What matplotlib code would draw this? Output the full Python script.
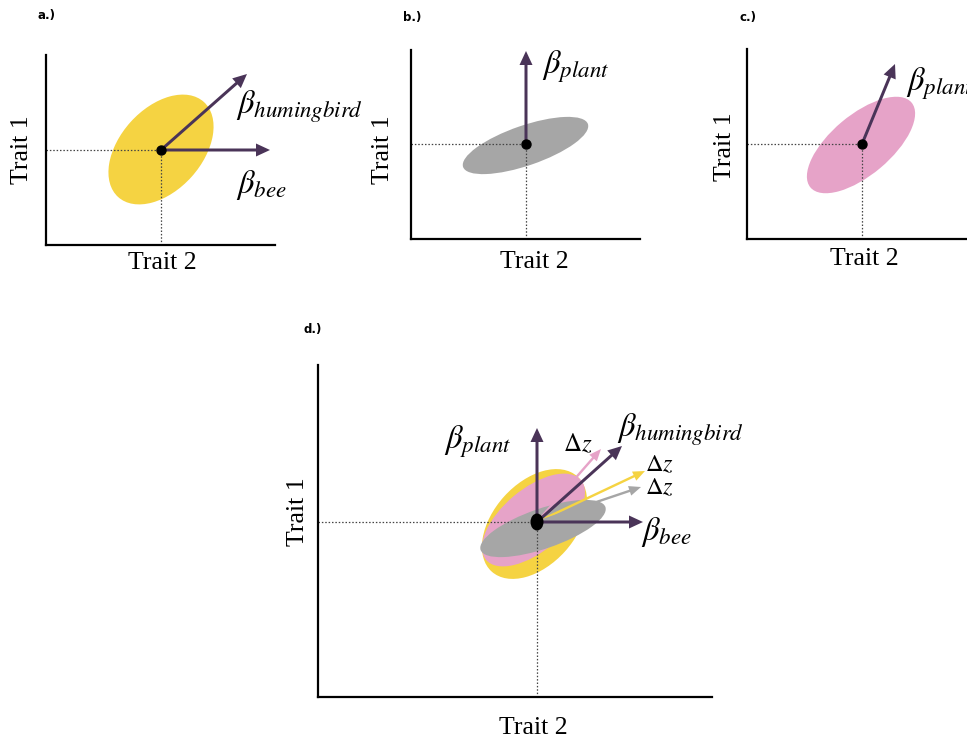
import matplotlib
matplotlib.use("Agg")
import matplotlib.pyplot as plt
from matplotlib.patches import Ellipse
import numpy as np

plt.rcParams['mathtext.fontset'] = 'stix'
SERIF = 'Liberation Serif'

W, H = 967, 742

# ---- colours ----
YELLOW = '#F5D342'
PINK = '#E6A3C8'
GREY = '#A6A6A6'
PURPLE = '#4A3458'

# ---- panel boxes (left, top, right, bottom) in figure pixels ----
panel_boxes = {
    'a': (46, 55, 275, 245),
    'b': (411, 50, 640, 239),
    'c': (747, 49, 990, 239),
    'd': (318, 365, 712, 697),
}
panel_letters = ['a.)', 'b.)', 'c.)', 'd.)']
panel_letter_pos = [(37, 15), (403, 17), (740, 17), (303, 330)]

# ---- trait means ----
mean_abc = (115, 95)
mean_d = (219, 175)

# ---- G-matrix ellipses: (cx, cy, semi-major, semi-minor, angle) ----
ell_a = [(115, 95.5, 64, 41, 48)]
ell_b = [(114.5, 93.5, 66, 20, 19)]
ell_c = [(114, 94, 66, 30, 40)]
ell_d = [(216.5, 173, 64, 41, 48), (215.5, 177, 62, 31, 40), (225, 168.5, 66, 20, 19)]
ell_colors_d = [YELLOW, PINK, GREY]

# ---- selection gradients (vectors) ----
beta_hummingbird = (86, 76)
beta_bee = (109, 0)
beta_plant_b = (0, 93)
beta_plant_c = (33, 80)
beta_plant_d = (0, 94)
beta_humm_d = (85, 76)
beta_bee_d = (106, 0)
dz_pink = (64, 73)
dz_yellow = (108, 51)
dz_grey = (104, 35)


def make_ax(key):
    L, T, R, B = panel_boxes[key]
    ax = fig.add_axes([L / W, 1 - B / H, (R - L) / W, (B - T) / H])
    ax.set_xlim(0, R - L)
    ax.set_ylim(0, B - T)
    for s in ['top', 'right']:
        ax.spines[s].set_visible(False)
    for s in ['left', 'bottom']:
        ax.spines[s].set_linewidth(1.6)
        ax.spines[s].set_color('black')
    ax.set_xticks([])
    ax.set_yticks([])
    ax.patch.set_alpha(0)
    return ax


def draw_ellipses(ax, ells, colors):
    for (cx, cy, a, b, ang), col in zip(ells, colors):
        ax.add_patch(Ellipse((cx, cy), 2 * a, 2 * b, angle=ang, facecolor=col,
                             edgecolor='none', zorder=1))


def guides(ax, m):
    ax.plot([0, m[0]], [m[1], m[1]], color='#444444', lw=0.9, ls=(0, (1.2, 1.5)), zorder=2)
    ax.plot([m[0], m[0]], [0, m[1]], color='#444444', lw=0.9, ls=(0, (1.2, 1.5)), zorder=2)


def arrow(ax, m, v, color=PURPLE, width=3.0, hw=13, hl=14, z=5):
    ax.arrow(m[0], m[1], v[0], v[1], width=width, head_width=hw, head_length=hl,
             length_includes_head=True, color=color, lw=0, zorder=z)


def trait_labels(ax, x2, x1):
    ax.text(x2[0], x2[1], 'Trait 2', family=SERIF, fontsize=18.5, ha='center', va='center',
            clip_on=False)
    ax.text(x1[0], x1[1], 'Trait 1', family=SERIF, fontsize=18.5, ha='center', va='center',
            rotation=90, clip_on=False)


def lab(ax, x, y, s, fs=23.5):
    ax.text(x, y, s, fontsize=fs, ha='left', va='center', clip_on=False)


fig = plt.figure(figsize=(W / 100, H / 100), dpi=100)

# ---- panel a ----
ax = make_ax('a')
draw_ellipses(ax, ell_a, [YELLOW])
guides(ax, mean_abc)
arrow(ax, mean_abc, beta_hummingbird)
arrow(ax, mean_abc, beta_bee)
ax.scatter([mean_abc[0]], [mean_abc[1]], s=42, color='black', zorder=6)
lab(ax, 190, 138, r'$\beta_{humingbird}$')
lab(ax, 190, 60, r'$\beta_{bee}$')
trait_labels(ax, (116.5, -18), (-24, 95))

# ---- panel b ----
ax = make_ax('b')
draw_ellipses(ax, ell_b, [GREY])
guides(ax, mean_abc)
arrow(ax, mean_abc, beta_plant_b)
ax.scatter([mean_abc[0]], [mean_abc[1]], s=42, color='black', zorder=6)
lab(ax, 131, 172, r'$\beta_{plant}$')
trait_labels(ax, (123, -23), (-28, 89))

# ---- panel c ----
ax = make_ax('c')
draw_ellipses(ax, ell_c, [PINK])
guides(ax, mean_abc)
arrow(ax, mean_abc, beta_plant_c)
ax.scatter([mean_abc[0]], [mean_abc[1]], s=42, color='black', zorder=6)
lab(ax, 159, 155, r'$\beta_{plant}$')
trait_labels(ax, (117.5, -20), (-22, 92))

# ---- panel d ----
ax = make_ax('d')
draw_ellipses(ax, ell_d, ell_colors_d)
guides(ax, mean_d)
arrow(ax, mean_d, dz_pink, color=PINK, width=2.4, hw=10, hl=12, z=3)
arrow(ax, mean_d, dz_yellow, color=YELLOW, width=2.4, hw=10, hl=12, z=3)
arrow(ax, mean_d, dz_grey, color=GREY, width=2.4, hw=10, hl=12, z=3)
arrow(ax, mean_d, beta_plant_d)
arrow(ax, mean_d, beta_humm_d)
arrow(ax, mean_d, beta_bee_d)
ax.add_patch(Ellipse(mean_d, 13, 17, facecolor='black', edgecolor='none', zorder=6))
lab(ax, 126, 255, r'$\beta_{plant}$')
lab(ax, 299, 267, r'$\beta_{humingbird}$')
lab(ax, 323, 165, r'$\beta_{bee}$')
lab(ax, 245, 253, r'$\Delta z$', fs=18)
lab(ax, 327, 233, r'$\Delta z$', fs=17.5)
lab(ax, 327, 210, r'$\Delta z$', fs=17.5)
trait_labels(ax, (215.5, -31.5), (-20.5, 185))

for s, (x, y) in zip(panel_letters, panel_letter_pos):
    fig.text(x / W, 1 - y / H, s, fontsize=8.5, fontweight='bold', family='DejaVu Sans',
             ha='left', va='center')

fig.savefig('out.png', dpi=100)
